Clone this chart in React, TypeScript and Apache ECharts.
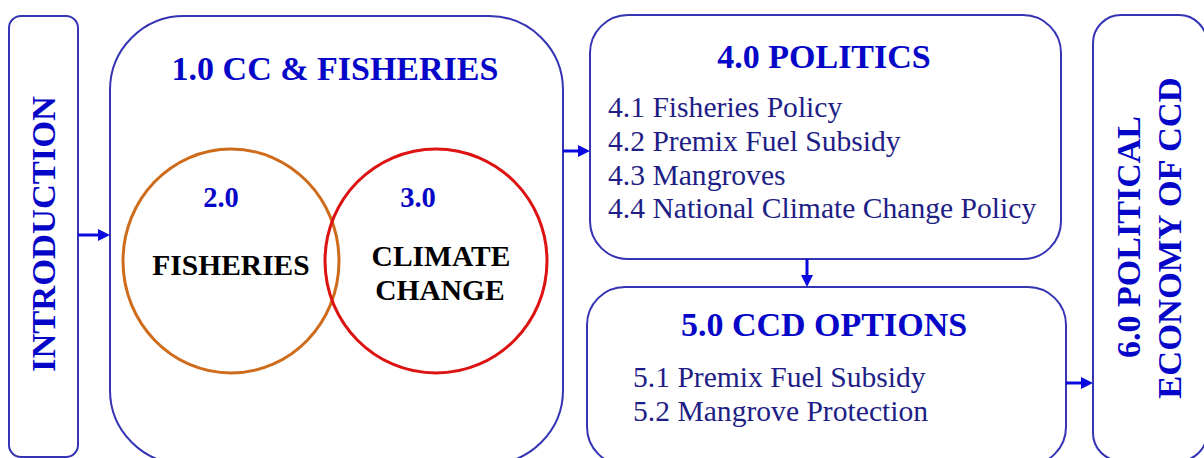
import React, { useEffect, useRef } from "react";
import * as echarts from "echarts";

// ---- content ----
const leftLabel = ["INTRODUCTION"];
const mainTitle = ["1.0 CC & FISHERIES"];
const circleNumbers = ["2.0", "3.0"];
const circleLabels = [["FISHERIES"], ["CLIMATE", "CHANGE"]];
const politicsTitle = ["4.0 POLITICS"];
const politicsItems = [
  "4.1 Fisheries Policy",
  "4.2 Premix Fuel Subsidy",
  "4.3 Mangroves",
  "4.4 National Climate Change Policy",
];
const ccdTitle = ["5.0 CCD OPTIONS"];
const ccdItems = ["5.1 Premix Fuel Subsidy", "5.2 Mangrove Protection"];
const rightLabel = ["6.0 POLITICAL", "ECONOMY OF CCD"];

// ---- styles ----
const FONT = '"Liberation Serif", "Times New Roman", serif';
const BOX = "#3434b4";
const ARROW = "#0a0ae0";
const TITLE = "#0606c8";
const ITEM = "#1e1e86";

function boxRect(x: number, y: number, w: number, h: number, r: number) {
  return {
    type: "rect",
    shape: { x, y, width: w, height: h, r },
    style: { fill: "none", stroke: BOX, lineWidth: 2 },
  };
}

function arrow(x1: number, y1: number, x2: number, y2: number) {
  const dx = x2 - x1;
  const dy = y2 - y1;
  const len = Math.sqrt(dx * dx + dy * dy);
  const ux = dx / len;
  const uy = dy / len;
  const hl = 12;
  const hw = 6;
  const bx = x2 - ux * hl;
  const by = y2 - uy * hl;
  return [
    {
      type: "line",
      shape: { x1, y1, x2: bx, y2: by },
      style: { stroke: ARROW, lineWidth: 3 },
    },
    {
      type: "polygon",
      shape: {
        points: [
          [x2, y2],
          [bx - uy * hw, by + ux * hw],
          [bx + uy * hw, by - ux * hw],
        ],
      },
      style: { fill: ARROW },
    },
  ];
}

function txt(
  text: string,
  x: number,
  y: number,
  size: number,
  color: string,
  bold: boolean,
  align: string = "center",
  rotation: number = 0
) {
  return {
    type: "text",
    x,
    y,
    rotation,
    style: {
      text,
      x: 0,
      y: 0,
      fill: color,
      fontSize: size,
      fontFamily: FONT,
      fontWeight: bold ? "bold" : "normal",
      align,
      verticalAlign: "middle",
    },
  };
}

export default function App() {
  const ref = useRef<HTMLDivElement>(null);
  useEffect(() => {
    document.body.style.margin = "0";
    if (!ref.current) return;
    const chart = echarts.init(ref.current, null, { renderer: "svg" });
    const elements: any[] = [];

    // boxes
    elements.push(boxRect(9, 16, 69, 441, 12));
    elements.push(boxRect(110, 16, 453, 448, 74));
    elements.push(boxRect(590, 15, 471, 244, 38));
    elements.push(boxRect(587, 287, 479, 178, 38));
    elements.push(boxRect(1093, 15, 114, 446, 28));

    // circles
    elements.push({
      type: "ellipse",
      shape: { cx: 231, cy: 261, rx: 108, ry: 112 },
      style: { fill: "none", stroke: "#cf6c1c", lineWidth: 3 },
    });
    elements.push({
      type: "ellipse",
      shape: { cx: 436, cy: 261, rx: 111, ry: 112 },
      style: { fill: "none", stroke: "#dd1212", lineWidth: 3 },
    });

    // arrows
    elements.push(...arrow(78, 235, 110, 235));
    elements.push(...arrow(563, 151, 590, 151));
    elements.push(...arrow(807, 259, 807, 287));
    elements.push(...arrow(1066, 383, 1093, 383));

    // texts
    elements.push(txt(leftLabel[0], 43, 234, 34.5, TITLE, true, "center", Math.PI / 2));
    elements.push(txt(mainTitle[0], 335, 68, 34, TITLE, true));
    elements.push(txt(circleNumbers[0], 221, 197, 28.5, TITLE, true));
    elements.push(txt(circleNumbers[1], 418, 197, 28.5, TITLE, true));
    elements.push(txt(circleLabels[0][0], 231, 265, 29.5, "#000000", true));
    elements.push(txt(circleLabels[1][0], 441, 256, 29.5, "#000000", true));
    elements.push(txt(circleLabels[1][1], 440, 290, 29.5, "#000000", true));

    elements.push(txt(politicsTitle[0], 824, 56.5, 34, TITLE, true));
    const polY = [107, 141, 174.5, 208];
    politicsItems.forEach((t, i) => {
      elements.push(txt(t, 608, polY[i], 29.6, ITEM, false, "left"));
    });

    elements.push(txt(ccdTitle[0], 824, 324.5, 34, TITLE, true));
    const ccdY = [377, 411];
    ccdItems.forEach((t, i) => {
      elements.push(txt(t, 633, ccdY[i], 29.6, ITEM, false, "left"));
    });

    elements.push(txt(rightLabel[0], 1128, 237, 34, TITLE, true, "center", Math.PI / 2));
    elements.push(txt(rightLabel[1], 1169, 238, 34.5, TITLE, true, "center", Math.PI / 2));

    chart.setOption({
      animation: false,
      backgroundColor: "#ffffff",
      graphic: { elements },
    });
    return () => chart.dispose();
  }, []);
  return <div ref={ref} style={{ width: 1204, height: 458 }} />;
}
